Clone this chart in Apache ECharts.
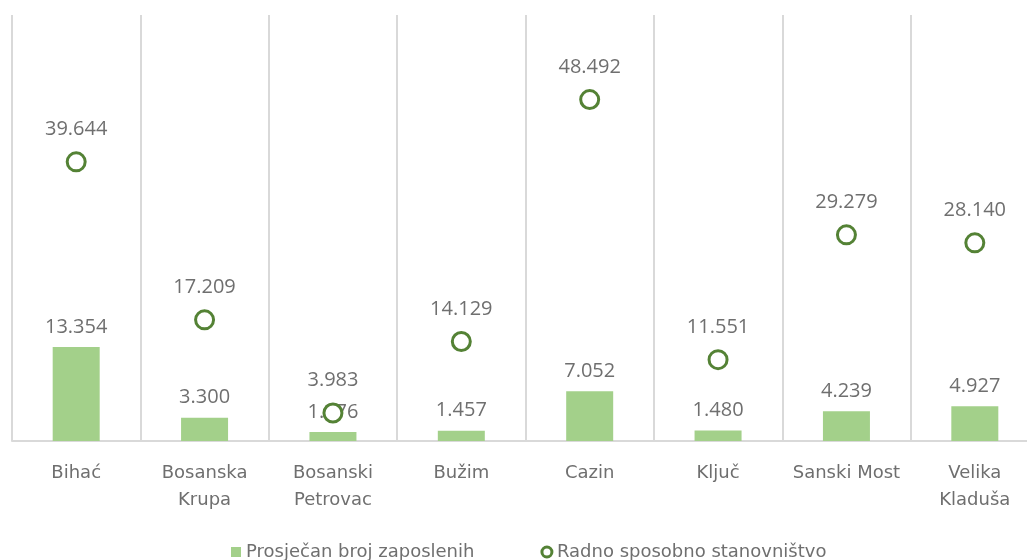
<!DOCTYPE html>
<html>
<head>
<meta charset="utf-8">
<script src="https://cdn.jsdelivr.net/npm/echarts@6/dist/echarts.min.js"></script>
<style>
  html, body { margin: 0; padding: 0; background: #ffffff; overflow: hidden; }
  /* the last column runs past the right edge of the window */
  #chart { width: 1049px; height: 560px; }
</style>
</head>
<body>
<div id="chart"></div>
<script>
// Municipalities of the Una-Sana Canton
const categories = [
  'Bihać', 'Bosanska\nKrupa', 'Bosanski\nPetrovac', 'Bužim',
  'Cazin', 'Ključ', 'Sanski Most', 'Velika\nKladuša'
];
// Average number of employees
const employed = [13354, 3300, 1276, 1457, 7052, 1480, 4239, 4927];
// Working-age population
const workingAge = [39644, 17209, 3983, 14129, 48492, 11551, 29279, 28140];

const seriesNames = ['Prosječan broj zaposlenih', 'Radno sposobno stanovništvo'];

// 13354 -> "13.354"
function fmt(v) {
  return String(v).replace(/\B(?=(\d{3})+(?!\d))/g, '.');
}

const textColor = '#6f6f6f';
const valueFont = '"Open Sans", "Noto Sans", sans-serif';
const labelFont = '"DejaVu Sans", "Noto Sans", sans-serif';
const darkGreen = '#548235';
const lightGreen = '#a3d08a';

const chart = echarts.init(document.getElementById('chart'), null, { renderer: 'canvas' });

chart.setOption({
  backgroundColor: '#ffffff',
  animation: false,
  grid: { left: 12, top: 15, width: 1027, height: 426, containLabel: false },
  legend: {
    left: 226,
    top: 538,
    itemGap: 66,
    itemWidth: 10,
    itemHeight: 10,
    textStyle: { color: textColor, fontSize: 18, fontFamily: labelFont },
    data: [
      { name: seriesNames[0], icon: 'rect', itemStyle: { color: lightGreen } },
      {
        name: seriesNames[1],
        icon: 'circle',
        itemStyle: { color: '#ffffff', borderColor: darkGreen, borderWidth: 3 }
      }
    ]
  },
  xAxis: {
    type: 'category',
    data: categories,
    axisTick: { show: false },
    axisLine: { show: true, lineStyle: { color: '#d9d9d9', width: 2 } },
    splitLine: { show: true, interval: 0, lineStyle: { color: '#d9d9d9', width: 2 } },
    axisLabel: {
      interval: 0,
      margin: 19,
      color: textColor,
      fontSize: 18,
      lineHeight: 27,
      fontFamily: labelFont
    }
  },
  yAxis: {
    type: 'value',
    min: 0,
    max: 60500,
    show: false,
    splitLine: { show: false }
  },
  series: [
    {
      name: seriesNames[0],
      type: 'bar',
      data: employed,
      barWidth: 47,
      itemStyle: { color: lightGreen },
      label: {
        show: true,
        position: 'top',
        distance: 10,
        color: textColor,
        fontSize: 20,
        fontFamily: valueFont,
        formatter: p => fmt(p.value)
      }
    },
    {
      name: seriesNames[1],
      type: 'scatter',
      data: workingAge,
      symbol: 'circle',
      symbolSize: 18,
      itemStyle: { color: '#ffffff', borderColor: darkGreen, borderWidth: 3, opacity: 1 },
      label: {
        show: true,
        position: 'top',
        distance: 12,
        color: textColor,
        fontSize: 20,
        fontFamily: valueFont,
        formatter: p => fmt(p.value)
      },
      z: 3
    }
  ]
});
</script>
</body>
</html>
